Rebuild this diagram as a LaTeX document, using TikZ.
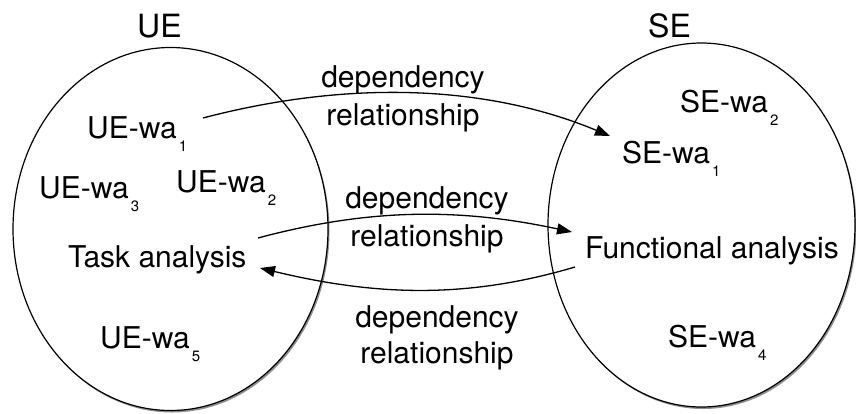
\documentclass[tikz,border=0pt]{standalone}
\usepackage{fontspec}
\setmainfont{TeX Gyre Heros}
\usetikzlibrary{arrows.meta,calc,shapes.geometric,shadows}
\newcommand\sbs[1]{\kern2pt\raisebox{-13pt}{\fontsize{15}{15}\selectfont #1}}
\begin{document}
\begin{tikzpicture}[x=1pt,y=-1pt,
  lbl/.style={anchor=base west, inner sep=0pt, font=\fontsize{30}{37}\selectfont},
  ttl/.style={anchor=base west, inner sep=0pt, font=\fontsize{32}{38}\selectfont},
  dep/.style={anchor=base, inner sep=0pt, align=center, font=\fontsize{30}{38}\selectfont},
  setshape/.style={ellipse, draw=black, line width=1.2pt, fill=white, inner sep=0pt,
    drop shadow={shadow xshift=1.5pt, shadow yshift=-2pt, fill=black!55, opacity=0.8}},
  arr/.style={line width=1.3pt, -{Triangle[length=15pt,width=11pt]}}]
\useasboundingbox (0,0) rectangle (856,413);
\node[setshape, minimum width=315pt, minimum height=363pt] (ue) at (170.5,229) {};
\node[setshape, minimum width=307pt, minimum height=364pt] (se) at (701.5,225) {};
\node[ttl] (uet) at (137,37) {UE};
\node[ttl] (sett) at (648,37) {SE};
\node[lbl] (ue1) at (87,138) {UE-wa\sbs{1}};
\node[lbl] (ue3) at (39,198) {UE-wa\sbs{3}};
\node[lbl] (ue2) at (176,192) {UE-wa\sbs{2}};
\node[lbl] (task) at (68,267) {Task analysis};
\node[lbl] (ue5) at (100,348) {UE-wa\sbs{5}};
\node[lbl] (se2) at (680,112) {SE-wa\sbs{2}};
\node[lbl] (se1) at (622,163) {SE-wa\sbs{1}};
\node[lbl] (func) at (585,258) {Functional analysis};
\node[lbl] (se4) at (668,347) {SE-wa\sbs{4}};
\node[dep] (d1) at (403,125) {dependency\\relationship};
\node[dep] (d2) at (427,246) {dependency\\relationship};
\node[dep, font=\fontsize{30}{36}\selectfont] (d3) at (437,363) {dependency\\relationship};
\draw[arr] ($(ue1.base west)+(116,-20)$) .. controls (340,82) and (480,82) .. ($(se1.base west)+(-12,-27)$);
\draw[arr] ($(task.base west)+(190,-29)$) .. controls (370,208) and (460,208) .. ($(func.base west)+(-13,-26)$);
\draw[arr] ($(func.base west)+(-10,9)$) .. controls (470,298) and (380,297) .. ($(task.base west)+(192,1)$);
\end{tikzpicture}
\end{document}
